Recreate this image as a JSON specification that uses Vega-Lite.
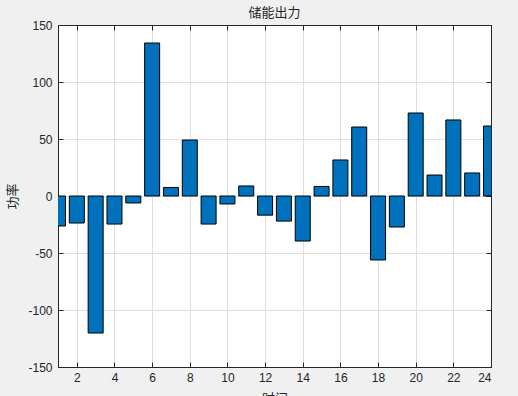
{
  "$schema": "https://vega.github.io/schema/vega-lite/v6.json",
  "width": 433,
  "height": 342,
  "autosize": {"type": "none"},
  "padding": {"left": 58, "top": 25, "right": 27, "bottom": 29},
  "background": "#f0f0f0",
  "config": {
    "view": {"fill": "white", "stroke": "#262626", "strokeWidth": 1},
    "font": "Liberation Sans",
    "axis": {
      "labelFont": "Liberation Sans",
      "labelFontSize": 12,
      "labelColor": "#262626",
      "domainColor": "#262626",
      "tickColor": "#262626",
      "gridColor": "#dfdfdf",
      "gridOpacity": 1,
      "titleFont": "Noto Sans CJK SC",
      "titleFontWeight": "normal",
      "titleFontSize": 13,
      "titleColor": "#262626"
    }
  },
  "title": {
    "text": "储能出力",
    "font": "Noto Sans CJK SC",
    "fontSize": 13,
    "fontWeight": "normal",
    "color": "#262626",
    "offset": -1
  },
  "data": {
    "values": [
      {"t": 1, "p": -26.3},
      {"t": 2, "p": -23.7},
      {"t": 3, "p": -120.2},
      {"t": 4, "p": -24.6},
      {"t": 5, "p": -6.1},
      {"t": 6, "p": 134.2},
      {"t": 7, "p": 7.5},
      {"t": 8, "p": 49.1},
      {"t": 9, "p": -24.6},
      {"t": 10, "p": -7},
      {"t": 11, "p": 8.8},
      {"t": 12, "p": -16.8},
      {"t": 13, "p": -22},
      {"t": 14, "p": -39.5},
      {"t": 15, "p": 8.4},
      {"t": 16, "p": 31.6},
      {"t": 17, "p": 60.5},
      {"t": 18, "p": -56.1},
      {"t": 19, "p": -27.2},
      {"t": 20, "p": 72.8},
      {"t": 21, "p": 18.4},
      {"t": 22, "p": 66.7},
      {"t": 23, "p": 20.2},
      {"t": 24, "p": 61.4}
    ]
  },
  "layer": [
    {
      "mark": {"type": "bar", "width": 15, "fill": "#0072BD", "stroke": "#000000", "strokeWidth": 1, "clip": true},
      "encoding": {
        "x": {
          "field": "t", "type": "quantitative",
          "scale": {"domain": [1, 24], "nice": false, "zero": false, "padding": 0},
          "axis": {"values": [2,4,6,8,10,12,14,16,18,20,22,24], "title": "时间", "grid": true, "tickSize": -5, "labelPadding": 10, "titlePadding": 9, "domain": true}
        },
        "y": {
          "field": "p", "type": "quantitative",
          "scale": {"domain": [-150, 150], "nice": false, "padding": 0},
          "axis": {"values": [-150,-100,-50,0,50,100,150], "labelExpr": "replace(datum.label, '−', '-')", "title": "功率", "grid": true, "tickSize": -5, "labelPadding": 11, "titlePadding": 8}
        }
      }
    },
    {
      "mark": {"type": "point", "opacity": 0},
      "encoding": {
        "x": {
          "field": "t", "type": "quantitative",
          "axis": {"orient": "top", "values": [2,4,6,8,10,12,14,16,18,20,22,24], "labels": false, "title": null, "grid": false, "tickSize": -5}
        },
        "y": {
          "field": "p", "type": "quantitative",
          "axis": {"orient": "right", "values": [-150,-100,-50,0,50,100,150], "labels": false, "title": null, "grid": false, "tickSize": -5}
        }
      }
    }
  ],
  "resolve": {"axis": {"x": "independent", "y": "independent"}}
}
